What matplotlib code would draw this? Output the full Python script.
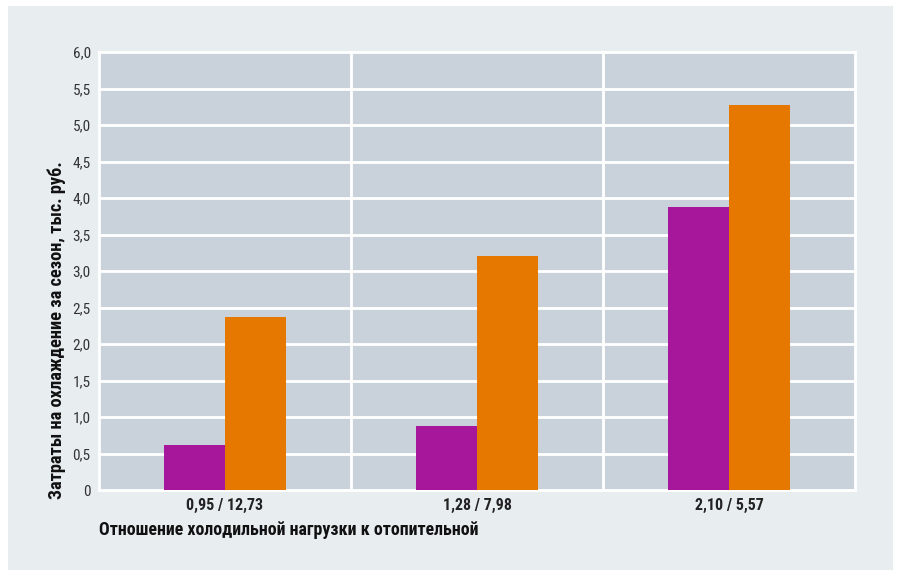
import numpy as np
import matplotlib.pyplot as plt
from matplotlib.patches import Rectangle
from matplotlib import font_manager

# данные: затраты на охлаждение за сезон, тыс. руб.
groups = ["0,95 / 12,73", "1,28 / 7,98", "2,10 / 5,57"]
series_a = [0.62, 0.88, 3.88]
series_b = [2.37, 3.21, 5.27]
yticks = np.arange(0, 6.01, 0.5)
ytick_labels = ["0", "0,5", "1,0", "1,5", "2,0", "2,5", "3,0", "3,5", "4,0", "4,5", "5,0", "5,5", "6,0"]

# узкий шрифт, если есть
names = {f.name for f in font_manager.fontManager.ttflist}
narrow = "DejaVu Sans"
for cand in ["Liberation Sans Narrow", "Roboto Condensed", "Open Sans Condensed"]:
    if cand in names:
        narrow = cand
        break
plt.rcParams["font.family"] = [narrow, "DejaVu Sans"]
plt.rcParams["font.stretch"] = "condensed"

W, H = 901, 576
fig = plt.figure(figsize=(W / 100, H / 100), dpi=100, facecolor="white")

# светлая подложка
fig.patches.append(Rectangle((8 / W, 1 - 570 / H), 885 / W, 564 / H,
                             transform=fig.transFigure, facecolor="#e8edf0",
                             edgecolor="none", zorder=-10))

ax = fig.add_axes([99 / W, 1 - 490 / H, 756 / W, 438 / H])
ax.set_zorder(5)
ax.set_facecolor("#c9d2da")

x = np.arange(len(groups))
w = 0.242
ax.bar(x - w / 2, series_a, width=w, color="#a6179b", zorder=3)
ax.bar(x + w / 2, series_b, width=w, color="#e67800", zorder=3)

ax.set_xlim(-0.5, 2.5)
ax.set_ylim(0, 6.0)
ax.set_yticks(yticks)
ax.set_yticklabels(ytick_labels, fontsize=11, color="#333333")
ax.set_xticks(x)
ax.set_xticklabels(groups, fontsize=11.5, fontweight="bold", color="#222222")
ax.tick_params(length=0, pad=6)

for yv in yticks:
    ax.axhline(yv, color="white", lw=2, zorder=2, clip_on=False)
for xv in [-0.5, 0.5, 1.5, 2.5]:
    ax.axvline(xv, color="white", lw=2, zorder=2, clip_on=False)
for s in ax.spines.values():
    s.set_visible(False)

ax.set_ylabel("Затраты на охлаждение за сезон, тыс. руб.", fontsize=13.2,
              fontweight="bold", color="#111111")
ax.yaxis.set_label_coords(-0.044, 0.366)
fig.text(99 / W, 1 - 530 / H, "Отношение холодильной нагрузки к отопительной",
         fontsize=12.9, fontweight="bold", color="#111111", ha="left", va="center",
         zorder=6)

fig.savefig("out.png", dpi=100, facecolor="white")
